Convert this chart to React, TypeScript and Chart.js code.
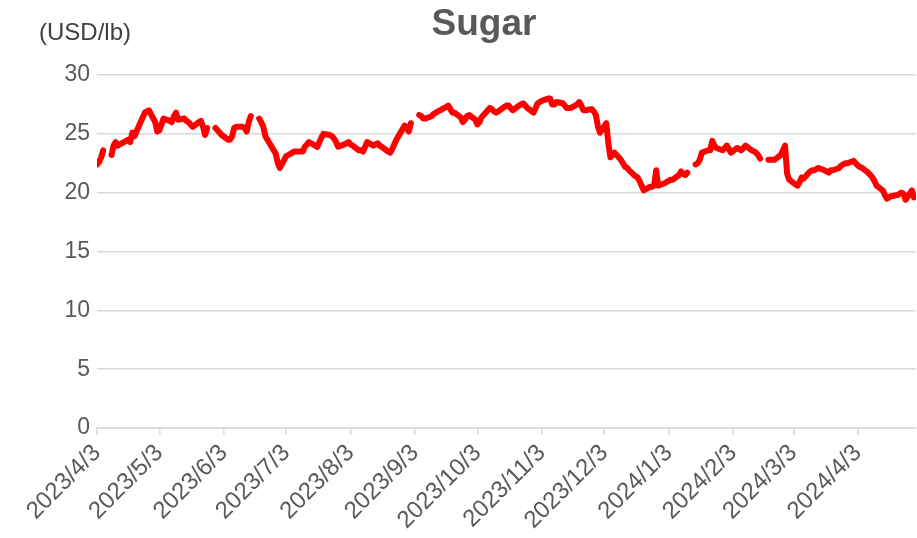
import { useEffect, useRef } from 'react';
import { Chart, registerables } from 'chart.js';

Chart.register(...registerables);

const chartTitle = 'Sugar';
const unitLabel = '(USD/lb)';

const dates: string[] = [
  '2023/4/3', '2023/4/4', '2023/4/5', '2023/4/6', '2023/4/7',
  '2023/4/10', '2023/4/11', '2023/4/12', '2023/4/13', '2023/4/14',
  '2023/4/17', '2023/4/18', '2023/4/19', '2023/4/20', '2023/4/21',
  '2023/4/24', '2023/4/25', '2023/4/26', '2023/4/27', '2023/4/28',
  '2023/5/1', '2023/5/2', '2023/5/3', '2023/5/4', '2023/5/5',
  '2023/5/8', '2023/5/9', '2023/5/10', '2023/5/11', '2023/5/12',
  '2023/5/15', '2023/5/16', '2023/5/17', '2023/5/18', '2023/5/19',
  '2023/5/22', '2023/5/23', '2023/5/24', '2023/5/25', '2023/5/26',
  '2023/5/29', '2023/5/30', '2023/5/31', '2023/6/1', '2023/6/2',
  '2023/6/5', '2023/6/6', '2023/6/7', '2023/6/8', '2023/6/9',
  '2023/6/12', '2023/6/13', '2023/6/14', '2023/6/15', '2023/6/16',
  '2023/6/19', '2023/6/20', '2023/6/21', '2023/6/22', '2023/6/23',
  '2023/6/26', '2023/6/27', '2023/6/28', '2023/6/29', '2023/6/30',
  '2023/7/3', '2023/7/4', '2023/7/5', '2023/7/6', '2023/7/7',
  '2023/7/10', '2023/7/11', '2023/7/12', '2023/7/13', '2023/7/14',
  '2023/7/17', '2023/7/18', '2023/7/19', '2023/7/20', '2023/7/21',
  '2023/7/24', '2023/7/25', '2023/7/26', '2023/7/27', '2023/7/28',
  '2023/7/31', '2023/8/1', '2023/8/2', '2023/8/3', '2023/8/4',
  '2023/8/7', '2023/8/8', '2023/8/9', '2023/8/10', '2023/8/11',
  '2023/8/14', '2023/8/15', '2023/8/16', '2023/8/17', '2023/8/18',
  '2023/8/21', '2023/8/22', '2023/8/23', '2023/8/24', '2023/8/25',
  '2023/8/28', '2023/8/29', '2023/8/30', '2023/8/31', '2023/9/1',
  '2023/9/4', '2023/9/5', '2023/9/6', '2023/9/7', '2023/9/8',
  '2023/9/11', '2023/9/12', '2023/9/13', '2023/9/14', '2023/9/15',
  '2023/9/18', '2023/9/19', '2023/9/20', '2023/9/21', '2023/9/22',
  '2023/9/25', '2023/9/26', '2023/9/27', '2023/9/28', '2023/9/29',
  '2023/10/2', '2023/10/3', '2023/10/4', '2023/10/5', '2023/10/6',
  '2023/10/9', '2023/10/10', '2023/10/11', '2023/10/12', '2023/10/13',
  '2023/10/16', '2023/10/17', '2023/10/18', '2023/10/19', '2023/10/20',
  '2023/10/23', '2023/10/24', '2023/10/25', '2023/10/26', '2023/10/27',
  '2023/10/30', '2023/10/31', '2023/11/1', '2023/11/2', '2023/11/3',
  '2023/11/6', '2023/11/7', '2023/11/8', '2023/11/9', '2023/11/10',
  '2023/11/13', '2023/11/14', '2023/11/15', '2023/11/16', '2023/11/17',
  '2023/11/20', '2023/11/21', '2023/11/22', '2023/11/23', '2023/11/24',
  '2023/11/27', '2023/11/28', '2023/11/29', '2023/11/30', '2023/12/1',
  '2023/12/4', '2023/12/5', '2023/12/6', '2023/12/7', '2023/12/8',
  '2023/12/11', '2023/12/12', '2023/12/13', '2023/12/14', '2023/12/15',
  '2023/12/18', '2023/12/19', '2023/12/20', '2023/12/21', '2023/12/22',
  '2023/12/25', '2023/12/26', '2023/12/27', '2023/12/28', '2023/12/29',
  '2024/1/1', '2024/1/2', '2024/1/3', '2024/1/4', '2024/1/5',
  '2024/1/8', '2024/1/9', '2024/1/10', '2024/1/11', '2024/1/12',
  '2024/1/15', '2024/1/16', '2024/1/17', '2024/1/18', '2024/1/19',
  '2024/1/22', '2024/1/23', '2024/1/24', '2024/1/25', '2024/1/26',
  '2024/1/29', '2024/1/30', '2024/1/31', '2024/2/1', '2024/2/2',
  '2024/2/5', '2024/2/6', '2024/2/7', '2024/2/8', '2024/2/9',
  '2024/2/12', '2024/2/13', '2024/2/14', '2024/2/15', '2024/2/16',
  '2024/2/19', '2024/2/20', '2024/2/21', '2024/2/22', '2024/2/23',
  '2024/2/26', '2024/2/27', '2024/2/28', '2024/2/29', '2024/3/1',
  '2024/3/4', '2024/3/5', '2024/3/6', '2024/3/7', '2024/3/8',
  '2024/3/11', '2024/3/12', '2024/3/13', '2024/3/14', '2024/3/15',
  '2024/3/18', '2024/3/19', '2024/3/20', '2024/3/21', '2024/3/22',
  '2024/3/25', '2024/3/26', '2024/3/27', '2024/3/28', '2024/3/29',
  '2024/4/1', '2024/4/2', '2024/4/3', '2024/4/4', '2024/4/5',
  '2024/4/8', '2024/4/9', '2024/4/10', '2024/4/11', '2024/4/12',
  '2024/4/15', '2024/4/16', '2024/4/17', '2024/4/18', '2024/4/19',
  '2024/4/22', '2024/4/23', '2024/4/24', '2024/4/25', '2024/4/26',
  '2024/4/29', '2024/4/30',
];

const prices: (number | null)[] = [
  22.4, 22.6, 23.0, 23.6, null,
  23.2, 24.0, 24.3, 24.0, 24.1,
  24.4, 24.5, 24.3, 25.1, 24.8,
  26.0, 26.4, 26.8, 26.9, 27.0,
  26.0, 25.2, 25.3, 25.8, 26.3,
  26.1, 26.0, 26.5, 26.8, 26.2,
  26.3, 26.1, 26.0, 25.8, 25.6,
  26.0, 26.1, 25.6, 24.9, 25.5,
  null, 25.5, 25.3, 25.1, 24.9,
  24.5, 24.5, 24.8, 25.5, 25.6,
  25.6, 25.5, 25.2, 26.0, 26.5,
  null, 26.3, 26.0, 25.6, 24.8,
  23.9, 23.6, 23.3, 22.5, 22.1,
  23.1, 23.2, 23.3, 23.4, 23.5,
  23.5, 23.5, 23.9, 24.1, 24.3,
  24.0, 23.9, 24.3, 24.7, 25.0,
  24.9, 24.8, 24.6, 24.3, 23.9,
  24.1, 24.2, 24.3, 24.1, 24.0,
  23.6, 23.6, 23.5, 23.9, 24.3,
  24.0, 24.1, 24.2, 24.0, 23.9,
  23.5, 23.4, 23.7, 24.1, 24.5,
  25.4, 25.7, 25.5, 25.2, 25.9,
  null, 26.6, 26.5, 26.3, 26.3,
  26.5, 26.7, 26.8, 26.9, 27.0,
  27.3, 27.4, 27.1, 26.8, 26.8,
  26.4, 26.0, 26.2, 26.5, 26.6,
  26.2, 25.8, 26.0, 26.4, 26.6,
  27.2, 27.1, 26.9, 26.8, 26.9,
  27.3, 27.4, 27.4, 27.2, 27.0,
  27.4, 27.5, 27.6, 27.4, 27.2,
  26.8, 27.2, 27.6, 27.7, 27.8,
  28.0, 28.0, 27.5, 27.5, 27.7,
  27.6, 27.4, 27.2, 27.2, 27.2,
  27.5, 27.7, 27.4, 27.0, 27.0,
  27.1, 26.9, 26.6, 25.6, 25.1,
  25.9, 24.2, 23.0, 23.2, 23.4,
  22.8, 22.5, 22.2, 22.1, 21.9,
  21.4, 21.3, 21.0, 20.6, 20.2,
  20.5, 20.5, 20.6, 21.9, 20.6,
  20.8, 20.9, 21.0, 21.1, 21.1,
  21.5, 21.8, 21.6, 21.5, 21.7,
  null, 22.4, 22.5, 22.8, 23.4,
  23.6, 23.6, 24.4, 24.0, 23.8,
  23.6, 23.8, 24.0, 23.7, 23.4,
  23.8, 23.7, 23.6, 23.8, 24.0,
  23.6, 23.5, 23.4, 23.2, 22.9,
  null, 22.8, 22.8, 22.8, 22.8,
  23.2, 23.6, 24.0, 21.6, 21.1,
  20.7, 20.6, 20.9, 21.3, 21.2,
  21.8, 21.9, 21.9, 22.0, 22.1,
  21.9, 21.8, 21.7, 21.9, 21.9,
  22.1, 22.3, 22.4, 22.5, 22.5,
  22.7, 22.5, 22.3, 22.2, 22.1,
  21.7, 21.5, 21.3, 21.0, 20.6,
  20.2, 19.8, 19.5, 19.6, 19.7,
  19.8, 19.9, 20.0, 19.9, 19.4,
  20.2, 19.6,
];

const xTickLabels: string[] = [
  '2023/4/3', '2023/5/3', '2023/6/3', '2023/7/3', '2023/8/3', '2023/9/3',
  '2023/10/3', '2023/11/3', '2023/12/3', '2024/1/3', '2024/2/3', '2024/3/3', '2024/4/3',
];
const xAxisEnd = '2024/5/1';
const yMin = 0;
const yMax = 30;
const yStep = 5;

const FONT = '"Liberation Sans", Arial, Helvetica, sans-serif';

function dayNum(s: string): number {
  const [y, m, d] = s.split('/').map(Number);
  return Date.UTC(y, m - 1, d) / 86400000;
}

export default function App() {
  const ref = useRef<HTMLCanvasElement | null>(null);

  useEffect(() => {
    if (!ref.current) return;
    const origin = dayNum(dates[0]);
    const points = dates.map((d, i) => ({ x: dayNum(d) - origin, y: prices[i] }));
    const tickVals = xTickLabels.map((l) => dayNum(l) - origin);

    const textPlugin = {
      id: 'extraTexts',
      afterDraw(chart: any) {
        const ctx = chart.ctx;
        ctx.save();
        ctx.fillStyle = '#595959';
        ctx.font = `bold 37px ${FONT}`;
        ctx.textAlign = 'center';
        ctx.textBaseline = 'alphabetic';
        ctx.fillText(chartTitle, 484, 35);
        ctx.fillStyle = '#404040';
        ctx.font = `24px ${FONT}`;
        ctx.textAlign = 'left';
        ctx.textBaseline = 'middle';
        ctx.fillText(unitLabel, 39, 33);
        ctx.restore();
      },
    };

    const chart = new Chart(ref.current, {
      type: 'line',
      data: {
        datasets: [
          {
            label: chartTitle,
            data: points as any,
            borderColor: '#ff0000',
            backgroundColor: '#ff0000',
            borderWidth: 6,
            pointRadius: 0,
            pointHoverRadius: 0,
            tension: 0,
            spanGaps: false,
            borderCapStyle: 'round',
            borderJoinStyle: 'round',
          },
        ],
      },
      options: {
        responsive: false,
        animation: false,
        layout: { padding: { top: 75, right: 1, bottom: 0, left: 0 } },
        plugins: {
          legend: { display: false },
          title: { display: false },
          tooltip: { enabled: false },
        },
        scales: {
          x: {
            type: 'linear',
            min: 0,
            max: dayNum(xAxisEnd) - origin,
            afterBuildTicks: (scale: any) => {
              scale.ticks = tickVals.map((v) => ({ value: v }));
            },
            afterFit: (scale: any) => {
              scale.height = 110;
            },
            ticks: {
              autoSkip: false,
              maxRotation: 45,
              minRotation: 45,
              padding: 4,
              color: '#595959',
              font: { family: FONT, size: 24 },
              callback: (value: any) => {
                const i = tickVals.indexOf(Number(value));
                return i >= 0 ? xTickLabels[i] : '';
              },
            },
            grid: {
              drawOnChartArea: false,
              drawTicks: true,
              tickLength: 7,
              color: '#d9d9d9',
              lineWidth: 1.5,
            },
            border: { display: true, color: '#d9d9d9', width: 1.5 },
          },
          y: {
            type: 'linear',
            min: yMin,
            max: yMax,
            afterFit: (scale: any) => {
              scale.width = 97;
            },
            ticks: {
              stepSize: yStep,
              padding: 7,
              color: '#595959',
              font: { family: FONT, size: 23 },
            },
            grid: {
              color: '#d9d9d9',
              lineWidth: 1.5,
              drawTicks: false,
            },
            border: { display: false },
          },
        },
      },
      plugins: [textPlugin],
    });
    return () => chart.destroy();
  }, []);

  return (
    <div style={{ position: 'fixed', left: 0, top: 0, width: 917, height: 538, background: '#fff' }}>
      <canvas ref={ref} width={917} height={538} style={{ display: 'block' }} />
    </div>
  );
}
